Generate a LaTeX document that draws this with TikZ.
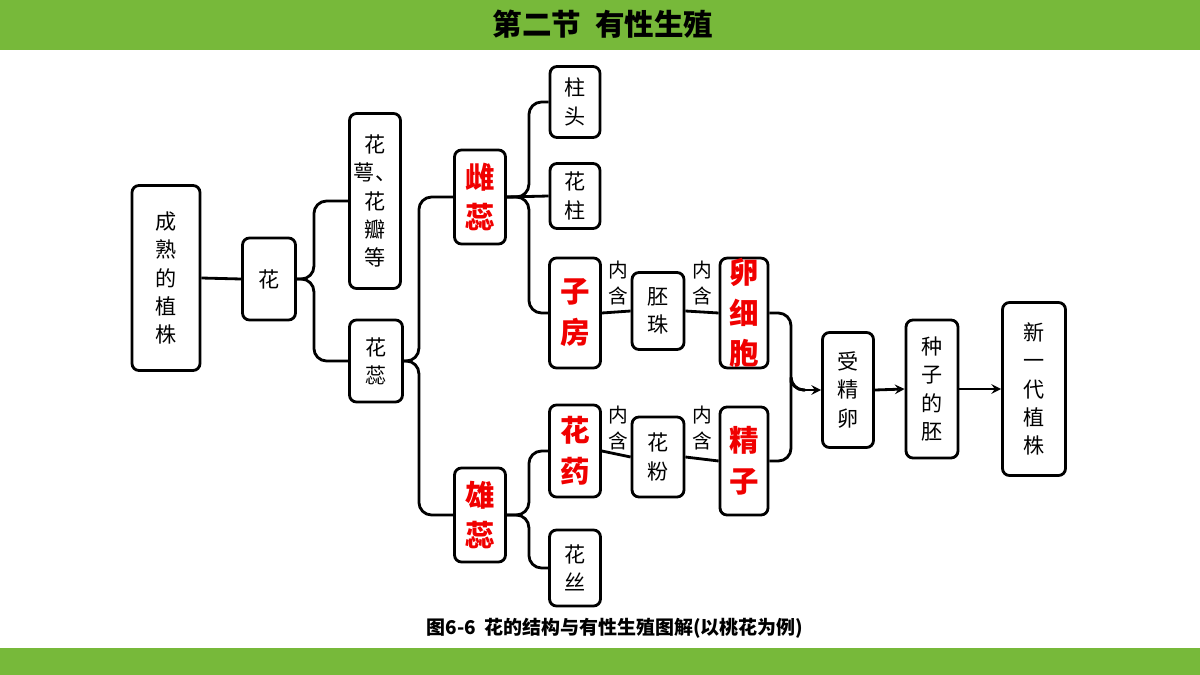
\documentclass[tikz,border=0pt]{standalone}
\usepackage{fontspec}
\setmainfont{Noto Sans CJK SC}
\usetikzlibrary{calc}
\definecolor{barGreen}{HTML}{77B93A}
\definecolor{hiRed}{HTML}{F00000}

\begin{document}
\begin{tikzpicture}[x=0.025cm, y=-0.025cm]
        \tikzset{box/.style={draw, line width=2pt, rounded corners=5pt, align=center, inner sep=0pt, font=\fontsize{15}{20}\selectfont},
                 redbox/.style={box, text=hiRed, font=\fontsize{21}{29}\selectfont\bfseries},
                 link/.style={line width=2pt, rounded corners=9pt},
                 flow/.style={line width=2pt, -stealth},
                 tag/.style={align=center, font=\fontsize{14}{19}\selectfont}};
        % frame and bars
        \useasboundingbox (0,0) rectangle (1200,675);
        \fill[barGreen] (0,0) rectangle (1200,50);
        \fill[barGreen] (0,648) rectangle (1200,675);
        \node[font=\fontsize{21}{24}\selectfont\bfseries] (title) at (603,24) {第二节\ \ 有性生殖};
        \node[font=\fontsize{13.5}{16}\selectfont\bfseries] (caption) at (615,628) {图6-6\ \ 花的结构与有性生殖图解(以桃花为例)};

        % boxes
        \node[box, minimum width=68*0.025cm, minimum height=185*0.025cm] (plant) at (166,278) {成\\熟\\的\\植\\株};
        \node[box, minimum width=53*0.025cm, minimum height=82*0.025cm] (flower) at (269,279) {花};
        \node[box, minimum width=51*0.025cm, minimum height=175*0.025cm] (petal) at (375,201) {花\\萼、\\花\\瓣\\等};
        \node[box, minimum width=53*0.025cm, minimum height=82*0.025cm] (stamens) at (376,361) {花\\蕊};
        \node[redbox, minimum width=51*0.025cm, minimum height=94*0.025cm] (pistil) at (480,197) {雌\\蕊};
        \node[redbox, minimum width=51*0.025cm, minimum height=94*0.025cm] (stamen) at (480,515) {雄\\蕊};
        \node[box, minimum width=50*0.025cm, minimum height=71*0.025cm] (stigma) at (575,102) {柱\\头};
        \node[box, minimum width=50*0.025cm, minimum height=65*0.025cm] (style) at (575,196) {花\\柱};
        \node[redbox, minimum width=51*0.025cm, minimum height=110*0.025cm] (ovary) at (575,313) {子\\房};
        \node[box, minimum width=52*0.025cm, minimum height=77*0.025cm] (ovule) at (658,311) {胚\\珠};
        \node[redbox, minimum width=48*0.025cm, minimum height=107*0.025cm] (egg) at (744,313) {卵\\细\\胞};
        \node[redbox, minimum width=51*0.025cm, minimum height=92*0.025cm] (anther) at (575,451) {花\\药};
        \node[box, minimum width=52*0.025cm, minimum height=80*0.025cm] (pollen) at (658,457) {花\\粉};
        \node[redbox, minimum width=48*0.025cm, minimum height=108*0.025cm] (sperm) at (744,461) {精\\子};
        \node[box, minimum width=51*0.025cm, minimum height=76*0.025cm] (filament) at (575,568) {花\\丝};
        \node[box, minimum width=51*0.025cm, minimum height=115*0.025cm] (zygote) at (848,390) {受\\精\\卵};
        \node[box, minimum width=52*0.025cm, minimum height=138*0.025cm] (embryo) at (932,389) {种\\子\\的\\胚};
        \node[box, minimum width=63*0.025cm, minimum height=173*0.025cm] (newplant) at (1034,389) {新\\一\\代\\植\\株};

        % contains labels
        \node[tag] (c1) at (618,283) {内\\含};
        \node[tag] (c2) at (702,283) {内\\含};
        \node[tag] (c3) at (618,428) {内\\含};
        \node[tag] (c4) at (702,428) {内\\含};

        % brackets
        \draw[link] (plant.east) -- (flower.west);
        \draw[link] (flower.east) -- ++(17,0) |- (petal.west);
        \draw[link] (flower.east) -- ++(17,0) |- (stamens.west);
        \draw[link] (stamens.east) -- ++(15,0) |- (pistil.west);
        \draw[link] (stamens.east) -- ++(15,0) |- (stamen.west);
        \draw[link] (pistil.east) -- ++(22,0) |- (stigma.west);
        \draw[link] (pistil.east) -- (style.west);
        \draw[link] (pistil.east) -- ++(22,0) |- (ovary.west);
        \draw[link] (stamen.east) -- ++(22,0) |- (anther.west);
        \draw[link] (stamen.east) -- ++(22,0) |- (filament.west);
        \draw[link] (ovary.east) -- (ovule.west);
        \draw[link] (ovule.east) -- (egg.west);
        \draw[link] (anther.east) -- (pollen.west);
        \draw[link] (pollen.east) -- (sperm.west);
        \coordinate (join) at (805,390);
        \draw[link] (egg.east) -| ($(join)+(-14,0)$) |- (join);
        \draw[link] (sperm.east) -| ($(join)+(-14,0)$) |- (join);
        \draw[flow] (join) -- (zygote.west);
        \draw[flow] (zygote.east) -- (embryo.west);
        \draw[flow] (embryo.east) -- (newplant.west);
\end{tikzpicture}
\end{document}
